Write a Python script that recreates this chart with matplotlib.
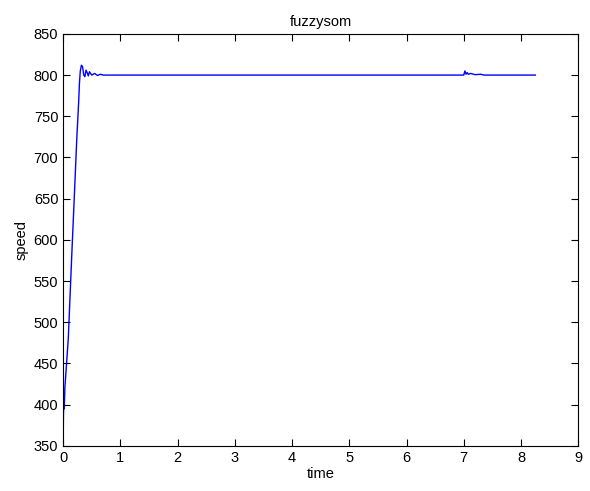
import matplotlib
matplotlib.use("Agg")
import matplotlib.pyplot as plt
import numpy as np

# speed response
t = [0, 0.005, 0.01, 0.02, 0.03, 0.05, 0.09, 0.15, 0.2, 0.24, 0.27, 0.285,
     0.3, 0.32, 0.34, 0.36, 0.38, 0.4, 0.42, 0.44, 0.46, 0.5, 0.55, 0.6,
     0.65, 0.7, 0.8, 7.0, 7.02, 7.04, 7.06, 7.08, 7.12, 7.2, 7.3, 7.35, 8.25]
speed = [350, 385, 400, 395, 420, 440, 480, 580, 660, 725, 765, 790,
         805, 812, 810, 800, 798, 806, 803, 799, 804, 800, 802, 799.5,
         801, 800, 800, 800, 805, 801, 803, 801, 802, 800.5, 801, 800, 800]

plt.rcParams['font.family'] = ['Liberation Sans', 'DejaVu Sans']

fig = plt.figure(figsize=(5.9, 4.91), dpi=100)
ax = fig.add_axes([0.107, 0.092, 0.873, 0.839])
ax.plot(t, speed, color='#0000ff', lw=1)
ax.set_xlim(0, 9)
ax.set_ylim(350, 850)
ax.set_xticks(np.arange(0, 10, 1))
ax.set_yticks(np.arange(350, 851, 50))
ax.tick_params(direction='in', top=True, right=True, labelsize=10.5, length=5)
ax.set_title('fuzzysom', fontsize=10.5)
ax.set_xlabel('time', fontsize=10.5, labelpad=2)
ax.set_ylabel('speed', fontsize=10.5)
fig.savefig('out.png')
